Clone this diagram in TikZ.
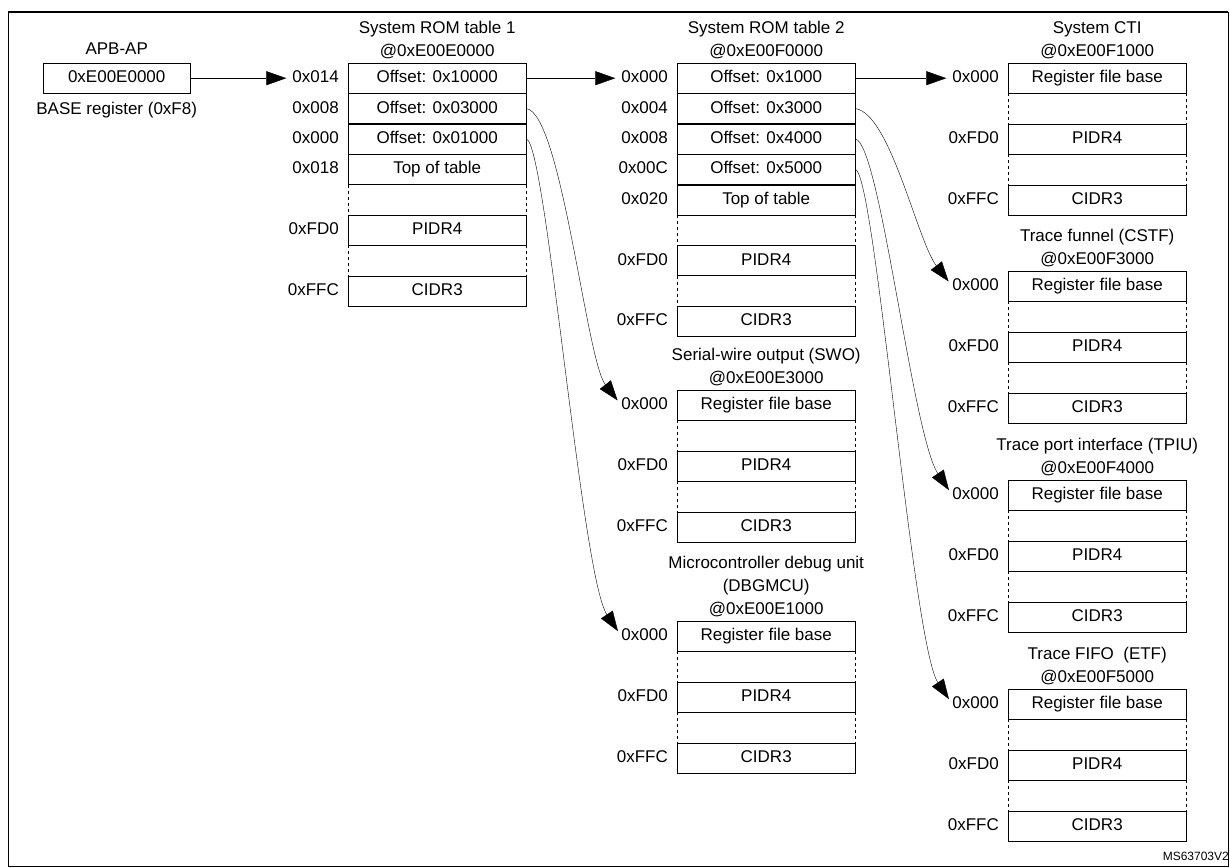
\documentclass[tikz,border=0pt]{standalone}
\usepackage{fontspec}
\setmainfont{Liberation Sans}
\usetikzlibrary{arrows.meta,positioning}

\tikzset{
  cell/.style={draw,thin,minimum width=178pt,minimum height=30pt,inner sep=0pt,text height=12pt,text depth=3pt,font=\fontsize{17}{19}\selectfont},
  gap/.style={minimum width=178pt,minimum height=30pt,inner sep=0pt},
  addr/.style={inner sep=0pt,text height=12pt,text depth=3pt,font=\fontsize{17}{19}\selectfont},
  heading/.style={align=center,inner sep=0pt,font=\fontsize{17}{23}\selectfont},
  link/.style={thin,shorten >=6pt,-{Triangle[length=20pt,width=14pt]}}
}

% one component block: name, x, y of top edge
\newcommand{\regblock}[3]{
  \node[cell,anchor=north west] (#1-0) at (#2,#3) {Register file base};
  \node[gap,below=0pt of #1-0] (#1-g1) {};
  \node[cell,below=0pt of #1-g1] (#1-1) {PIDR4};
  \node[gap,below=0pt of #1-1] (#1-g2) {};
  \node[cell,below=0pt of #1-g2] (#1-2) {CIDR3};
  \draw[dashed] (#1-g1.north west) -- (#1-g1.south west) (#1-g1.north east) -- (#1-g1.south east);
  \draw[dashed] (#1-g2.north west) -- (#1-g2.south west) (#1-g2.north east) -- (#1-g2.south east);
  \node[addr,left=9pt of #1-0] (#1-a0) {0x000};
  \node[addr,left=9pt of #1-1] {0xFD0};
  \node[addr,left=9pt of #1-2] {0xFFC};
}

\begin{document}
\begin{tikzpicture}[x=1pt,y=-1pt]
\useasboundingbox (0,0) rectangle (1230,867);
\draw[thin] (8,12) rectangle (1228,866);
\draw[line width=1.6pt] (8,12) -- (1228,12);

% APB-AP
\node[cell,minimum width=147pt,anchor=north west] (apb) at (43,63) {0xE00E0000};
\node[heading,above=8pt of apb] {APB-AP};
\node[addr,below=9pt of apb] {BASE register (0xF8)};

% System ROM table 1
\node[cell,anchor=north west] (t1-0) at (348,63) {Offset: 0x10000};
\node[cell,below=0pt of t1-0] (t1-1) {Offset: 0x03000};
\node[cell,below=0pt of t1-1] (t1-2) {Offset: 0x01000};
\node[cell,below=0pt of t1-2] (t1-3) {Top of table};
\node[gap,below=0pt of t1-3] (t1-g1) {};
\node[cell,below=0pt of t1-g1] (t1-4) {PIDR4};
\node[gap,below=0pt of t1-4] (t1-g2) {};
\node[cell,below=0pt of t1-g2] (t1-5) {CIDR3};
\draw[dashed] (t1-g1.north west) -- (t1-g1.south west) (t1-g1.north east) -- (t1-g1.south east);
\draw[dashed] (t1-g2.north west) -- (t1-g2.south west) (t1-g2.north east) -- (t1-g2.south east);
\node[addr,left=9pt of t1-0] (t1-a0) {0x014};
\node[addr,left=9pt of t1-1] {0x008};
\node[addr,left=9pt of t1-2] {0x000};
\node[addr,left=9pt of t1-3] {0x018};
\node[addr,left=9pt of t1-4] {0xFD0};
\node[addr,left=9pt of t1-5] {0xFFC};
\node[heading,above=4pt of t1-0] {System ROM table 1\\@0xE00E0000};

% System ROM table 2
\node[cell,anchor=north west] (t2-0) at (677,63) {Offset: 0x1000};
\node[cell,below=0pt of t2-0] (t2-1) {Offset: 0x3000};
\node[cell,below=0pt of t2-1] (t2-2) {Offset: 0x4000};
\node[cell,below=0pt of t2-2] (t2-3) {Offset: 0x5000};
\node[cell,below=0pt of t2-3] (t2-4) {Top of table};
\node[gap,below=0pt of t2-4] (t2-g1) {};
\node[cell,below=0pt of t2-g1] (t2-5) {PIDR4};
\node[gap,below=0pt of t2-5] (t2-g2) {};
\node[cell,below=0pt of t2-g2] (t2-6) {CIDR3};
\draw[dashed] (t2-g1.north west) -- (t2-g1.south west) (t2-g1.north east) -- (t2-g1.south east);
\draw[dashed] (t2-g2.north west) -- (t2-g2.south west) (t2-g2.north east) -- (t2-g2.south east);
\node[addr,left=9pt of t2-0] (t2-a0) {0x000};
\node[addr,left=9pt of t2-1] {0x004};
\node[addr,left=9pt of t2-2] {0x008};
\node[addr,left=9pt of t2-3] {0x00C};
\node[addr,left=9pt of t2-4] {0x020};
\node[addr,left=9pt of t2-5] {0xFD0};
\node[addr,left=9pt of t2-6] {0xFFC};
\node[heading,above=4pt of t2-0] {System ROM table 2\\@0xE00F0000};

% components
\regblock{swo}{677}{390}
\node[heading,above=4pt of swo-0] {Serial-wire output (SWO)\\@0xE00E3000};
\regblock{mcu}{677}{621}
\node[heading,above=4pt of mcu-0] {Microcontroller debug unit\\(DBGMCU)\\@0xE00E1000};
\regblock{cti}{1008}{63}
\node[heading,above=4pt of cti-0] {System CTI\\@0xE00F1000};
\regblock{cstf}{1008}{271}
\node[heading,above=4pt of cstf-0] {Trace funnel (CSTF)\\@0xE00F3000};
\regblock{tpiu}{1008}{480}
\node[heading,above=4pt of tpiu-0] {Trace port interface (TPIU)\\@0xE00F4000};
\regblock{etf}{1008}{689}
\node[heading,above=4pt of etf-0] {Trace FIFO\ \ (ETF)\\@0xE00F5000};

\node[addr,font=\fontsize{12}{13}\selectfont,text height=9pt,anchor=south east] (ref) at (1229,864) {MS63703V2};

% links
\draw[link] (apb) -- (t1-a0);
\draw[link] (t1-0) -- (t2-a0);
\draw[link] (t2-0) -- (cti-a0);
\draw[link] (t1-1.east) .. controls +(35,5) and +(-35,-45) .. (swo-a0.west);
\draw[link] (t1-2.east) .. controls +(20,5) and +(-40,-60) .. (mcu-a0.west);
\draw[link] (t2-1.east) .. controls +(35,5) and +(-35,-45) .. (cstf-a0.west);
\draw[link] (t2-2.east) .. controls +(25,5) and +(-40,-60) .. (tpiu-a0.west);
\draw[link] (t2-3.east) .. controls +(20,5) and +(-40,-60) .. (etf-a0.west);
\end{tikzpicture}
\end{document}
